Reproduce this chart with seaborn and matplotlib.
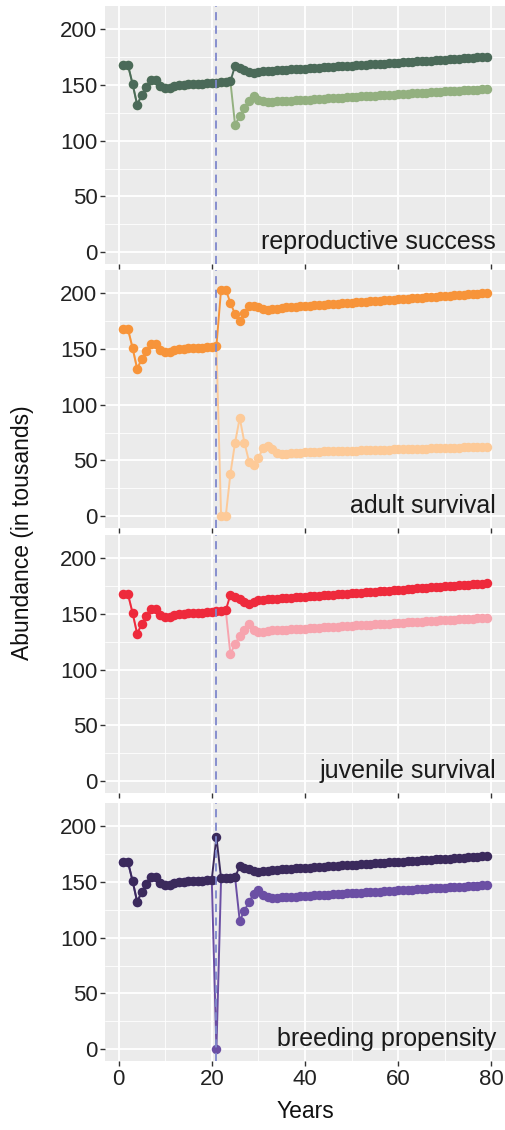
import matplotlib
matplotlib.use("Agg")
import matplotlib.pyplot as plt
from matplotlib.ticker import MultipleLocator
import seaborn as sns
import pandas as pd
import numpy as np

# ---------------- data ----------------
years = list(range(1, 80))

pre_period = [168, 168, 151, 132, 141, 148, 154, 154, 149, 147,
              147.5, 148.5, 149.5, 150, 150.5, 150.5, 151, 151, 151.5, 152]

rs_dark = pre_period + [152, 152.5, 152.5, 153, 167, 165, 163, 161.5, 160.5, 161.5,
    162, 162.3, 162.6, 162.9, 163.2, 163.4, 163.7, 164, 164.3, 164.5,
    164.8, 165, 165.3, 165.6, 165.8, 166.1, 166.4, 166.6, 166.9, 167.2,
    167.4, 167.7, 168, 168.2, 168.5, 168.8, 169, 169.3, 169.6, 169.8,
    170.1, 170.4, 170.6, 170.9, 171.2, 171.4, 171.7, 172, 172.2, 172.5,
    172.8, 173, 173.3, 173.6, 173.8, 174.1, 174.4, 174.6, 174.9]
rs_light = pre_period + [152, 152.5, 152.5, 153, 114, 122, 129, 135, 140, 136,
    135, 134.5, 134.5, 135, 135.2, 135.5, 135.7, 136, 136.2, 136.5,
    136.7, 137, 137.2, 137.5, 137.7, 138, 138.2, 138.5, 138.7, 139,
    139.2, 139.5, 139.7, 140, 140.2, 140.5, 140.7, 141, 141.2, 141.5,
    141.7, 142, 142.2, 142.5, 142.7, 143, 143.2, 143.5, 143.7, 144,
    144.2, 144.5, 144.7, 145, 145.2, 145.5, 145.7, 146, 146.2]

as_dark = pre_period + [152.5, 203, 203, 191, 181, 175, 182, 188, 188, 187,
    185.5, 185, 185.5, 186, 186.5, 187, 187.3, 187.6, 187.9, 188.2,
    188.5, 188.8, 189.1, 189.4, 189.7, 190, 190.3, 190.6, 190.9, 191.2,
    191.5, 191.8, 192.1, 192.4, 192.7, 193, 193.3, 193.6, 193.9, 194.2,
    194.5, 194.8, 195.1, 195.4, 195.7, 196, 196.3, 196.6, 196.9, 197.2,
    197.5, 197.8, 198.1, 198.4, 198.7, 199, 199.3, 199.6, 199.9]
as_light = pre_period + [152.5, 0, 0, 38, 66, 88, 66, 49, 46, 52,
    61, 62.5, 60, 57, 55.5, 56, 56.5, 57, 57, 57.5,
    57.6, 57.8, 57.9, 58, 58.1, 58.2, 58.4, 58.5, 58.6, 58.7,
    58.8, 59, 59.1, 59.2, 59.3, 59.4, 59.6, 59.7, 59.8, 59.9,
    60, 60.2, 60.3, 60.4, 60.5, 60.6, 60.8, 60.9, 61, 61.1,
    61.2, 61.4, 61.5, 61.6, 61.7, 61.8, 62, 62.1, 62.2]

js_dark = pre_period + [152.5, 152.5, 153, 167, 165, 163, 160.5, 158.5, 160.5, 162,
    162.5, 163, 163.3, 163.6, 163.9, 164.2, 164.5, 164.8, 165.1, 165.4,
    165.7, 166, 166.3, 166.6, 166.9, 167.2, 167.5, 167.8, 168.1, 168.4,
    168.7, 169, 169.3, 169.6, 169.9, 170.2, 170.5, 170.8, 171.1, 171.4,
    171.7, 172, 172.3, 172.6, 172.9, 173.2, 173.5, 173.8, 174.1, 174.4,
    174.7, 175, 175.3, 175.6, 175.9, 176.2, 176.5, 176.8, 177.1]
js_light = pre_period + [152.5, 152.5, 153, 114, 123, 130, 135, 140.5, 135, 134,
    134, 134.5, 135, 135.2, 135.5, 135.7, 136, 136.2, 136.5, 136.7,
    137, 137.2, 137.5, 137.7, 138, 138.2, 138.5, 138.7, 139, 139.2,
    139.5, 139.7, 140, 140.2, 140.5, 140.7, 141, 141.2, 141.5, 141.7,
    142, 142.2, 142.5, 142.7, 143, 143.2, 143.5, 143.7, 144, 144.2,
    144.5, 144.7, 145, 145.2, 145.5, 145.7, 146, 146.2, 146.5]

bp_dark = pre_period + [190, 153, 153.5, 153.5, 154, 164, 162, 161, 160, 159,
    159.5, 160, 160.5, 160.8, 161, 161.3, 161.6, 161.9, 162.1, 162.4,
    162.7, 162.9, 163.2, 163.5, 163.8, 164, 164.3, 164.6, 164.8, 165.1,
    165.4, 165.7, 165.9, 166.2, 166.5, 166.7, 167, 167.3, 167.6, 167.8,
    168.1, 168.4, 168.6, 168.9, 169.2, 169.5, 169.7, 170, 170.3, 170.5,
    170.8, 171.1, 171.4, 171.6, 171.9, 172.2, 172.4, 172.7, 173]
bp_light = pre_period + [0, 153, 153.5, 153.5, 154, 115, 124, 132, 139, 143,
    138, 136, 135.5, 135.5, 136, 136.2, 136.5, 136.7, 137, 137.2,
    137.5, 137.7, 138, 138.2, 138.5, 138.7, 139, 139.2, 139.5, 139.7,
    140, 140.2, 140.5, 140.7, 141, 141.2, 141.5, 141.7, 142, 142.2,
    142.5, 142.7, 143, 143.2, 143.5, 143.7, 144, 144.2, 144.5, 144.7,
    145, 145.2, 145.5, 145.7, 146, 146.2, 146.5, 146.7, 147]

panel_labels = ["reproductive success", "adult survival",
                "juvenile survival", "breeding propensity"]
dark_series = [rs_dark, as_dark, js_dark, bp_dark]
light_series = [rs_light, as_light, js_light, bp_light]
dark_colors = ["#4b6a59", "#f7943a", "#ee2a3c", "#3b2a5c"]
light_colors = ["#93b080", "#fdca98", "#f7a4ae", "#6b4fa4"]
event_year = 21
x_ticks = [0, 20, 40, 60, 80]
y_ticks = [0, 50, 100, 150, 200]

# ---------------- style ----------------
sns.set_theme(style="darkgrid")
plt.rcParams.update({
    "axes.facecolor": "#EBEBEB",
    "grid.color": "white",
    "axes.edgecolor": "#EBEBEB",
})
plt.rcParams["font.family"] = ["Liberation Sans", "DejaVu Sans"]

W, H = 506, 1130
fig = plt.figure(figsize=(W / 100, H / 100), dpi=100)

panel_tops = [6, 270, 535, 803]
panel_h = 258
left, right = 105, 505

axes = []
for i in range(4):
    top = panel_tops[i]
    ax = fig.add_axes([left / W, 1 - (top + panel_h) / H, (right - left) / W, panel_h / H])
    axes.append(ax)
    df = pd.DataFrame({"Years": years, "dark": dark_series[i], "light": light_series[i]})
    sns.lineplot(data=df, x="Years", y="light", ax=ax, color=light_colors[i],
                 marker="o", markersize=6.8, markeredgewidth=0, linewidth=1.4)
    sns.lineplot(data=df, x="Years", y="dark", ax=ax, color=dark_colors[i],
                 marker="o", markersize=6.8, markeredgewidth=0, linewidth=1.4)
    ax.axvline(event_year, color="#7f88cc", linestyle=(0, (4.5, 3)), linewidth=1.3, zorder=5)
    ax.set_xlim(-2.9, 82.9)
    ax.set_ylim(-10.5, 220.5)
    ax.set_xticks(x_ticks)
    ax.set_yticks(y_ticks)
    ax.xaxis.set_minor_locator(MultipleLocator(10))
    ax.yaxis.set_minor_locator(MultipleLocator(25))
    ax.grid(which="major", color="white", linewidth=1.3)
    ax.grid(which="minor", color="white", linewidth=0.6)
    ax.tick_params(axis="both", which="major", length=3.5, width=1.0, color="#333333",
                   labelsize=16, labelcolor="#222222", pad=2, bottom=True, left=True)
    ax.tick_params(axis="both", which="minor", length=0)
    for s in ax.spines.values():
        s.set_visible(False)
    ax.set_xlabel("")
    ax.set_ylabel("")
    if i < 3:
        ax.tick_params(axis="x", labelbottom=False)
    ax.text(0.978, 0.085, panel_labels[i], transform=ax.transAxes, ha="right",
            va="center", fontsize=18, color="#1a1a1a")

fig.text(23 / W, 1 - 533 / H, "Abundance (in tousands)", rotation=90, ha="center",
         va="center", fontsize=16.5, color="#111111")
fig.text((left + right) / 2 / W, 1 - 1112 / H, "Years", ha="center", va="center",
         fontsize=16.5, color="#111111")

fig.savefig("out.png", dpi=100)
